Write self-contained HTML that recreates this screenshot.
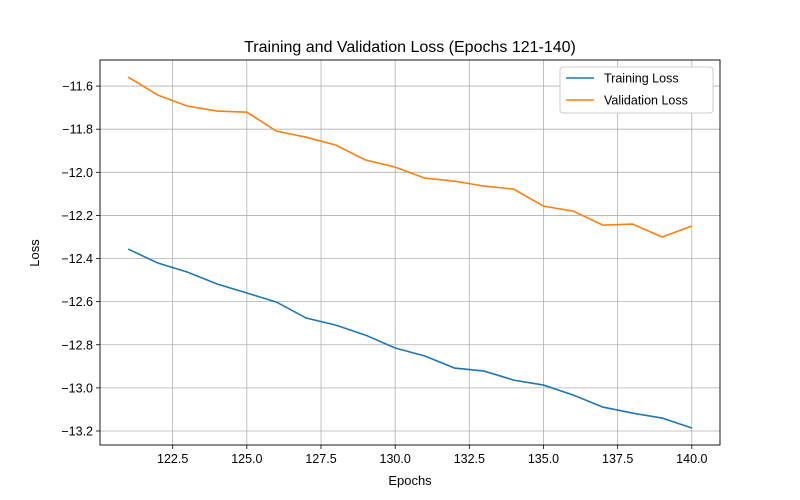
<!DOCTYPE html>
<html><head><meta charset="utf-8">
<style>
body{margin:0;background:#fff;}
svg{display:block;font-family:"Liberation Sans","DejaVu Sans",sans-serif;}
</style></head>
<body>
<svg id="chart" width="800" height="500">
<text x="410" y="52" text-anchor="middle" font-size="16">Training and Validation Loss (Epochs 121-140)</text>
<text x="410" y="485" text-anchor="middle" font-size="13">Epochs</text>
<text x="39" y="253" text-anchor="middle" font-size="13" transform="rotate(-90 39 253)">Loss</text>
</svg>
<script>
const epochs=[121,122,123,124,125,126,127,128,129,130,131,132,133,134,135,136,137,138,139,140];
const trainLoss=[-12.356,-12.421,-12.463,-12.518,-12.560,-12.602,-12.676,-12.709,-12.755,-12.815,-12.852,-12.908,-12.922,-12.964,-12.987,-13.033,-13.089,-13.117,-13.140,-13.186];
const valLoss=[-11.558,-11.642,-11.693,-11.716,-11.721,-11.809,-11.837,-11.874,-11.943,-11.976,-12.027,-12.041,-12.064,-12.078,-12.157,-12.180,-12.245,-12.240,-12.300,-12.249];
const xTicks=[122.5,125.0,127.5,130.0,132.5,135.0,137.5,140.0];
const yTicks=[-11.6,-11.8,-12.0,-12.2,-12.4,-12.6,-12.8,-13.0,-13.2];

const L=100,R=720,T=60,B=445;
const xMin=120.05,xMax=140.95,yMin=-13.265,yMax=-11.479;
const sx=v=>L+(v-xMin)/(xMax-xMin)*(R-L);
const sy=v=>B-(v-yMin)/(yMax-yMin)*(B-T);
const svg=document.getElementById('chart');
const NS='http://www.w3.org/2000/svg';
function mk(tag,attrs){const e=document.createElementNS(NS,tag);for(const k in attrs)e.setAttribute(k,attrs[k]);svg.appendChild(e);return e;}

xTicks.forEach(t=>{
  const x=sx(t);
  const g=mk('line',{x1:x,x2:x,y1:T,y2:B,stroke:'#b0b0b0','stroke-width':0.8});
  
  
  mk('line',{x1:x,x2:x,y1:B,y2:B+4,stroke:'#000','stroke-width':0.8});
  const tx=mk('text',{x:x,y:B+18,'text-anchor':'middle','font-size':12.5});
  tx.textContent=t.toFixed(1);
  
  
});
yTicks.forEach(t=>{
  const y=sy(t);
  const g=mk('line',{x1:L,x2:R,y1:y,y2:y,stroke:'#b0b0b0','stroke-width':0.8});
  
  
  mk('line',{x1:L-4,x2:L,y1:y,y2:y,stroke:'#000','stroke-width':0.8});
  const tx=mk('text',{x:L-7,y:y+4.5,'text-anchor':'end','font-size':12.5});
  tx.textContent='\u2212'+Math.abs(t).toFixed(1);
  
  
});
function line(vals,color,name){
  const p=mk('polyline',{points:epochs.map((e,i)=>sx(e)+','+sy(vals[i])).join(' '),fill:'none',stroke:color,'stroke-width':1.6});
  
  
}
line(trainLoss,'#1f77b4','training-loss-line');
line(valLoss,'#ff7f0e','validation-loss-line');
const frame=mk('rect',{x:L,y:T,width:R-L,height:B-T,fill:'none',stroke:'#000','stroke-width':0.9});



const lg=mk('rect',{x:560,y:67,width:153,height:46,fill:'#fff',stroke:'#ccc',rx:3});


[['Training Loss','#1f77b4',78],['Validation Loss','#ff7f0e',100]].forEach(([n,c,y])=>{
  const l=mk('line',{x1:566,x2:594,y1:y,y2:y,stroke:c,'stroke-width':1.6});
  
  
  const t=mk('text',{x:604,y:y+4.5,'font-size':12.5});
  t.textContent=n;
  
  
});
</script>
</body></html>
